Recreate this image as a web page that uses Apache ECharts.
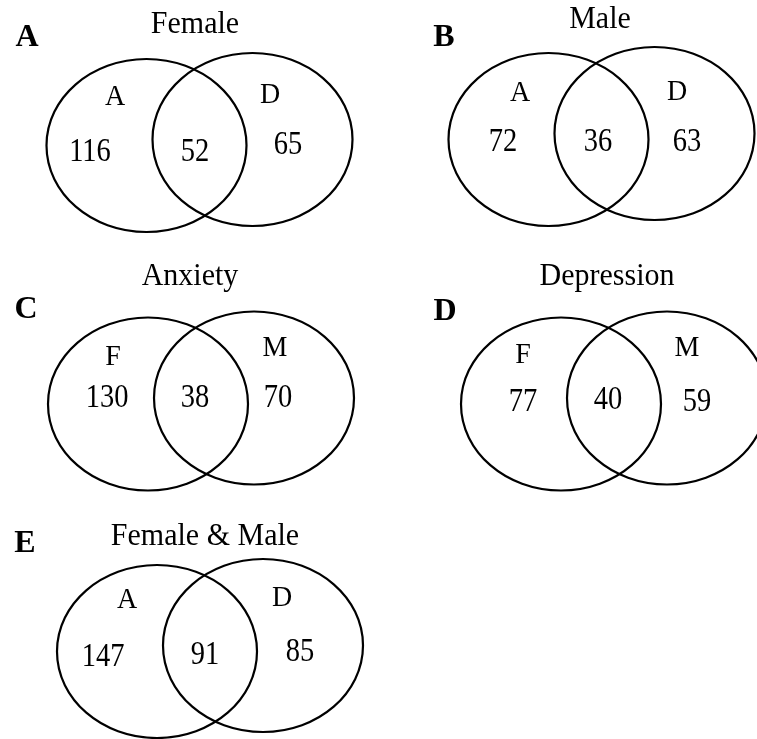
<!DOCTYPE html>
<html>
<head>
<meta charset="utf-8">
<script src="https://cdn.jsdelivr.net/npm/echarts@6/dist/echarts.min.js"></script>
<style>
  html, body { margin: 0; padding: 0; background: #fff; }
  #venn { width: 757px; height: 739px; }
</style>
</head>
<body>
<div id="venn"></div>
<script>
// data
var panelLetters = ['A', 'B', 'C', 'D', 'E'];
var panelTitles = ['Female', 'Male', 'Anxiety', 'Depression', 'Female & Male'];
var setNames = [['A', 'D'], ['A', 'D'], ['F', 'M'], ['F', 'M'], ['A', 'D']];
var onlyLeft = [116, 72, 130, 77, 147];
var overlap = [52, 36, 38, 40, 91];
var onlyRight = [65, 63, 70, 59, 85];

// layout (centre of left ellipse for each panel, page units)
var leftCentre = [[146.5, 145.5], [548.5, 139.5], [148, 404], [561, 404], [157, 651.5]];
var rightShift = [106, -6];
var radii = [100, 86.5];
// offsets from left centre: title, set names, counts
var titleOff = [[48.5, -120.5], [51.5, -119.5], [42, -127], [46, -127], [48, -114.5]];
var letterPos = [[27, 38], [444, 38], [26, 310], [445, 312], [25, 544]];
var nameOff = [
  [[-31.5, -48.5], [123.5, -50.5]],
  [[-28.5, -46.5], [128.5, -47.5]],
  [[-35, -47], [127, -56]],
  [[-38, -49], [126, -56]],
  [[-30, -51.5], [125, -53.5]]
];
var countOff = [
  [[-56.5, 6.5], [48.5, 6.5], [141.5, -0.5]],
  [[-45.5, 2.5], [49.5, 2.5], [138.5, 2.5]],
  [[-41, -6], [47, -6], [130, -6]],
  [[-38, -2], [47, -4], [136, -2]],
  [[-54, 5.5], [48, 3.5], [143, 0.5]]
];

var FONT = '"Liberation Serif", "Times New Roman", serif';
// text kinds: 0 title, 1 set name, 2 count, 3 panel letter
var textStyle = [
  { size: 30, weight: 'normal', sy: 1.05 },
  { size: 28, weight: 'normal', sy: 1.05 },
  { size: 28.5, weight: 'normal', sy: 1.15 },
  { size: 32, weight: 'bold', sy: 1.0 }
];

// ellipses
var ellipses = [];
leftCentre.forEach(function (c) {
  ellipses.push([c[0], c[1]]);
  ellipses.push([c[0] + rightShift[0], c[1] + rightShift[1]]);
});

// text points: [x, y, kind], name = text
var texts = [];
panelTitles.forEach(function (t, i) {
  var c = leftCentre[i];
  texts.push({ value: [c[0] + titleOff[i][0], c[1] + titleOff[i][1], 0], name: t });
  setNames[i].forEach(function (s, k) {
    texts.push({ value: [c[0] + nameOff[i][k][0], c[1] + nameOff[i][k][1], 1], name: s });
  });
  [onlyLeft[i], overlap[i], onlyRight[i]].forEach(function (n, k) {
    texts.push({ value: [c[0] + countOff[i][k][0], c[1] + countOff[i][k][1], 2], name: String(n) });
  });
  texts.push({ value: [letterPos[i][0], letterPos[i][1], 3], name: panelLetters[i] });
});

var myChart = echarts.init(document.getElementById('venn'));

var option = {
  backgroundColor: '#fff',
  animation: false,
  grid: { left: 0, right: 0, top: 0, bottom: 0 },
  xAxis: { type: 'value', min: 0, max: 757, show: false },
  yAxis: { type: 'value', min: 0, max: 739, inverse: true, show: false },
  series: [
    {
      type: 'custom',
      data: ellipses,
      renderItem: function (params, api) {
        var p = api.coord([api.value(0), api.value(1)]);
        return {
          type: 'ellipse',
          shape: { cx: p[0], cy: p[1], rx: radii[0], ry: radii[1] },
          style: { fill: 'none', stroke: '#000', lineWidth: 2.2 }
        };
      }
    },
    {
      type: 'custom',
      data: texts,
      renderItem: function (params, api) {
        var p = api.coord([api.value(0), api.value(1)]);
        var st = textStyle[api.value(2)];
        return {
          type: 'text',
          x: p[0],
          y: p[1],
          scaleY: st.sy,
          style: {
            text: texts[params.dataIndex].name,
            fill: '#000',
            font: st.weight + ' ' + st.size + 'px ' + FONT,
            align: 'center',
            verticalAlign: 'middle'
          }
        };
      }
    }
  ]
};

myChart.setOption(option);
</script>
</body>
</html>
